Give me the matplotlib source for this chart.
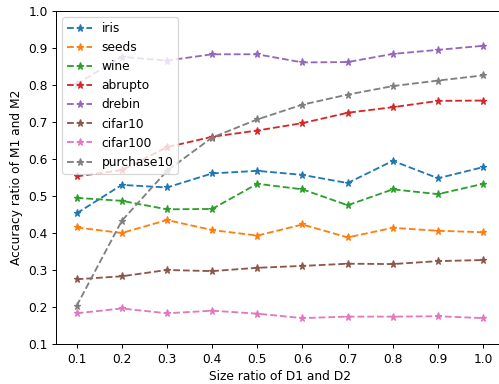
import matplotlib
matplotlib.use("Agg")
import matplotlib.pyplot as plt
import numpy as np

x = [0.1, 0.2, 0.3, 0.4, 0.5, 0.6, 0.7, 0.8, 0.9, 1.0]
iris = [0.453, 0.530, 0.523, 0.561, 0.568, 0.557, 0.535, 0.595, 0.548, 0.578]
seeds = [0.415, 0.400, 0.435, 0.408, 0.393, 0.423, 0.388, 0.414, 0.406, 0.402]
wine = [0.495, 0.487, 0.464, 0.465, 0.533, 0.518, 0.475, 0.518, 0.505, 0.533]
abrupto = [0.553, 0.570, 0.632, 0.660, 0.677, 0.697, 0.725, 0.740, 0.757, 0.758]
drebin = [0.803, 0.876, 0.866, 0.883, 0.883, 0.861, 0.862, 0.884, 0.895, 0.906]
cifar10 = [0.275, 0.283, 0.300, 0.297, 0.306, 0.311, 0.317, 0.316, 0.324, 0.327]
cifar100 = [0.183, 0.196, 0.183, 0.190, 0.182, 0.170, 0.174, 0.174, 0.175, 0.170]
purchase10 = [0.203, 0.433, 0.568, 0.658, 0.707, 0.747, 0.774, 0.797, 0.812, 0.826]

series = [("iris", iris), ("seeds", seeds), ("wine", wine), ("abrupto", abrupto),
          ("drebin", drebin), ("cifar10", cifar10), ("cifar100", cifar100),
          ("purchase10", purchase10)]

DPI = 88
fig = plt.figure(figsize=(499 / DPI, 384 / DPI), dpi=DPI)
ax = fig.add_axes([56.3 / 499, 1 - 344 / 384, (503.5 - 56.3) / 499, (344 - 11) / 384])
for name, vals in series:
    ax.plot(x, vals, linestyle="--", marker="*", label=name)

ax.set_xticks(x)
ax.set_xticklabels([f"{v:.1f}" for v in x])
ax.set_ylim(0.1, 1.0)
ax.set_yticks(np.round(np.arange(0.1, 1.01, 0.1), 1))
ax.set_xlabel("Size ratio of D1 and D2")
ax.set_ylabel("Accuracy ratio of M1 and M2")
ax.legend(loc="upper left")
fig.savefig("out.png", dpi=DPI)
